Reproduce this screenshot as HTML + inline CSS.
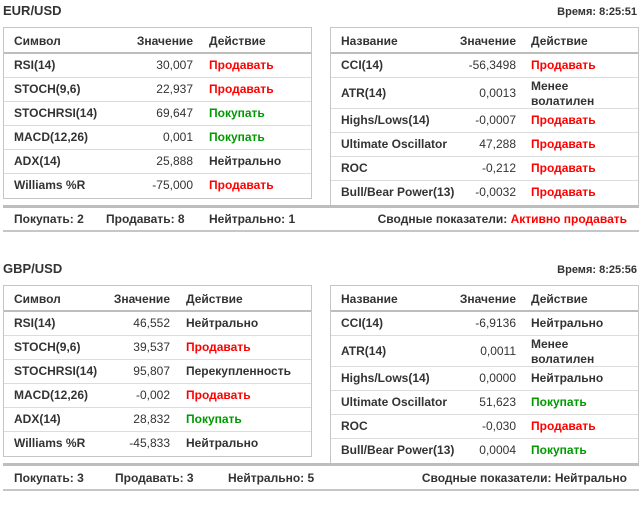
<!DOCTYPE html>
<html><head><meta charset="utf-8"><style>
*{margin:0;padding:0;box-sizing:border-box}
body{width:644px;height:497px;background:#fff;font-family:"Liberation Sans",Arial,sans-serif;font-size:12px;color:#333;position:relative;overflow:hidden}
.sec{position:absolute;left:0;width:644px;height:250px}
.a{position:absolute;white-space:nowrap;line-height:14px}
.b{font-weight:bold}
.r{color:#f00;font-weight:bold}
.g{color:#090;font-weight:bold}
.box{position:absolute;border:1px solid #c6c6c6;background:#fff}
.hl{position:absolute;height:2px;background:#bdbdbd}
.sl{position:absolute;height:1px;background:#dcdcdc}
.rt{text-align:right}
</style></head><body>

<!-- SECTION 1 -->
<div class="sec" style="top:0">
<div class="a b" style="left:3px;top:4px;font-size:13px">EUR/USD</div>
<div class="a b rt" style="right:7px;top:5px;font-size:11px;width:150px">Время: 8:25:51</div>

<div class="box" style="left:3px;top:27px;width:309px;height:172px"></div>
<div class="hl" style="left:4px;top:52px;width:307px"></div>
<div class="sl" style="left:4px;top:77px;width:307px"></div>
<div class="sl" style="left:4px;top:101px;width:307px"></div>
<div class="sl" style="left:4px;top:125px;width:307px"></div>
<div class="sl" style="left:4px;top:149px;width:307px"></div>
<div class="sl" style="left:4px;top:173px;width:307px"></div>

<div class="a b" style="left:14px;top:34px">Символ</div>
<div class="a b rt" style="left:93px;width:100px;top:34px">Значение</div>
<div class="a b" style="left:209px;top:34px">Действие</div>

<div class="a b" style="left:14px;top:58px">RSI(14)</div><div class="a rt" style="left:93px;width:100px;top:58px">30,007</div><div class="a r" style="left:209px;top:58px">Продавать</div>
<div class="a b" style="left:14px;top:82px">STOCH(9,6)</div><div class="a rt" style="left:93px;width:100px;top:82px">22,937</div><div class="a r" style="left:209px;top:82px">Продавать</div>
<div class="a b" style="left:14px;top:106px">STOCHRSI(14)</div><div class="a rt" style="left:93px;width:100px;top:106px">69,647</div><div class="a g" style="left:209px;top:106px">Покупать</div>
<div class="a b" style="left:14px;top:130px">MACD(12,26)</div><div class="a rt" style="left:93px;width:100px;top:130px">0,001</div><div class="a g" style="left:209px;top:130px">Покупать</div>
<div class="a b" style="left:14px;top:154px">ADX(14)</div><div class="a rt" style="left:93px;width:100px;top:154px">25,888</div><div class="a b" style="left:209px;top:154px">Нейтрально</div>
<div class="a b" style="left:14px;top:178px">Williams %R</div><div class="a rt" style="left:93px;width:100px;top:178px">-75,000</div><div class="a r" style="left:209px;top:178px">Продавать</div>

<div class="box" style="left:330px;top:27px;width:309px;height:180px"></div>
<div class="hl" style="left:331px;top:52px;width:307px"></div>
<div class="sl" style="left:331px;top:77px;width:307px"></div>
<div class="sl" style="left:331px;top:108px;width:307px"></div>
<div class="sl" style="left:331px;top:132px;width:307px"></div>
<div class="sl" style="left:331px;top:156px;width:307px"></div>
<div class="sl" style="left:331px;top:180px;width:307px"></div>

<div class="a b" style="left:341px;top:34px">Название</div>
<div class="a b rt" style="left:416px;width:100px;top:34px">Значение</div>
<div class="a b" style="left:531px;top:34px">Действие</div>

<div class="a b" style="left:341px;top:58px">CCI(14)</div><div class="a rt" style="left:416px;width:100px;top:58px">-56,3498</div><div class="a r" style="left:531px;top:58px">Продавать</div>
<div class="a b" style="left:341px;top:86px">ATR(14)</div><div class="a rt" style="left:416px;width:100px;top:86px">0,0013</div><div class="a b" style="left:531px;top:79px">Менее</div><div class="a b" style="left:531px;top:94px">волатилен</div>
<div class="a b" style="left:341px;top:113px">Highs/Lows(14)</div><div class="a rt" style="left:416px;width:100px;top:113px">-0,0007</div><div class="a r" style="left:531px;top:113px">Продавать</div>
<div class="a b" style="left:341px;top:137px">Ultimate Oscillator</div><div class="a rt" style="left:416px;width:100px;top:137px">47,288</div><div class="a r" style="left:531px;top:137px">Продавать</div>
<div class="a b" style="left:341px;top:161px">ROC</div><div class="a rt" style="left:416px;width:100px;top:161px">-0,212</div><div class="a r" style="left:531px;top:161px">Продавать</div>
<div class="a b" style="left:341px;top:185px">Bull/Bear Power(13)</div><div class="a rt" style="left:416px;width:100px;top:185px">-0,0032</div><div class="a r" style="left:531px;top:185px">Продавать</div>

<div style="position:absolute;left:3px;top:205px;width:636px;height:3px;background:#bdbdbd"></div>
<div style="position:absolute;left:3px;top:230px;width:636px;height:2px;background:#c6c6c6"></div>
<div class="a b" style="left:14px;top:212px">Покупать: 2</div>
<div class="a b" style="left:106px;top:212px">Продавать: 8</div>
<div class="a b" style="left:209px;top:212px">Нейтрально: 1</div>
<div class="a b rt" style="right:17px;top:212px">Сводные показатели: <span class="r">Активно продавать</span></div>
</div>

<!-- SECTION 2 -->
<div class="sec" style="top:258px">
<div class="a b" style="left:3px;top:4px;font-size:13px">GBP/USD</div>
<div class="a b rt" style="right:7px;top:5px;font-size:11px;width:150px">Время: 8:25:56</div>

<div class="box" style="left:3px;top:27px;width:309px;height:172px"></div>
<div class="hl" style="left:4px;top:52px;width:307px"></div>
<div class="sl" style="left:4px;top:77px;width:307px"></div>
<div class="sl" style="left:4px;top:101px;width:307px"></div>
<div class="sl" style="left:4px;top:125px;width:307px"></div>
<div class="sl" style="left:4px;top:149px;width:307px"></div>
<div class="sl" style="left:4px;top:173px;width:307px"></div>

<div class="a b" style="left:14px;top:34px">Символ</div>
<div class="a b rt" style="left:70px;width:100px;top:34px">Значение</div>
<div class="a b" style="left:186px;top:34px">Действие</div>

<div class="a b" style="left:14px;top:58px">RSI(14)</div><div class="a rt" style="left:70px;width:100px;top:58px">46,552</div><div class="a b" style="left:186px;top:58px">Нейтрально</div>
<div class="a b" style="left:14px;top:82px">STOCH(9,6)</div><div class="a rt" style="left:70px;width:100px;top:82px">39,537</div><div class="a r" style="left:186px;top:82px">Продавать</div>
<div class="a b" style="left:14px;top:106px">STOCHRSI(14)</div><div class="a rt" style="left:70px;width:100px;top:106px">95,807</div><div class="a b" style="left:186px;top:106px">Перекупленность</div>
<div class="a b" style="left:14px;top:130px">MACD(12,26)</div><div class="a rt" style="left:70px;width:100px;top:130px">-0,002</div><div class="a r" style="left:186px;top:130px">Продавать</div>
<div class="a b" style="left:14px;top:154px">ADX(14)</div><div class="a rt" style="left:70px;width:100px;top:154px">28,832</div><div class="a g" style="left:186px;top:154px">Покупать</div>
<div class="a b" style="left:14px;top:178px">Williams %R</div><div class="a rt" style="left:70px;width:100px;top:178px">-45,833</div><div class="a b" style="left:186px;top:178px">Нейтрально</div>

<div class="box" style="left:330px;top:27px;width:309px;height:180px"></div>
<div class="hl" style="left:331px;top:52px;width:307px"></div>
<div class="sl" style="left:331px;top:77px;width:307px"></div>
<div class="sl" style="left:331px;top:108px;width:307px"></div>
<div class="sl" style="left:331px;top:132px;width:307px"></div>
<div class="sl" style="left:331px;top:156px;width:307px"></div>
<div class="sl" style="left:331px;top:180px;width:307px"></div>

<div class="a b" style="left:341px;top:34px">Название</div>
<div class="a b rt" style="left:416px;width:100px;top:34px">Значение</div>
<div class="a b" style="left:531px;top:34px">Действие</div>

<div class="a b" style="left:341px;top:58px">CCI(14)</div><div class="a rt" style="left:416px;width:100px;top:58px">-6,9136</div><div class="a b" style="left:531px;top:58px">Нейтрально</div>
<div class="a b" style="left:341px;top:86px">ATR(14)</div><div class="a rt" style="left:416px;width:100px;top:86px">0,0011</div><div class="a b" style="left:531px;top:79px">Менее</div><div class="a b" style="left:531px;top:94px">волатилен</div>
<div class="a b" style="left:341px;top:113px">Highs/Lows(14)</div><div class="a rt" style="left:416px;width:100px;top:113px">0,0000</div><div class="a b" style="left:531px;top:113px">Нейтрально</div>
<div class="a b" style="left:341px;top:137px">Ultimate Oscillator</div><div class="a rt" style="left:416px;width:100px;top:137px">51,623</div><div class="a g" style="left:531px;top:137px">Покупать</div>
<div class="a b" style="left:341px;top:161px">ROC</div><div class="a rt" style="left:416px;width:100px;top:161px">-0,030</div><div class="a r" style="left:531px;top:161px">Продавать</div>
<div class="a b" style="left:341px;top:185px">Bull/Bear Power(13)</div><div class="a rt" style="left:416px;width:100px;top:185px">0,0004</div><div class="a g" style="left:531px;top:185px">Покупать</div>

<div style="position:absolute;left:3px;top:205px;width:636px;height:3px;background:#bdbdbd"></div>
<div style="position:absolute;left:3px;top:231px;width:636px;height:2px;background:#c6c6c6"></div>
<div class="a b" style="left:14px;top:213px">Покупать: 3</div>
<div class="a b" style="left:115px;top:213px">Продавать: 3</div>
<div class="a b" style="left:228px;top:213px">Нейтрально: 5</div>
<div class="a b rt" style="right:17px;top:213px">Сводные показатели: Нейтрально</div>
</div>

</body></html>
